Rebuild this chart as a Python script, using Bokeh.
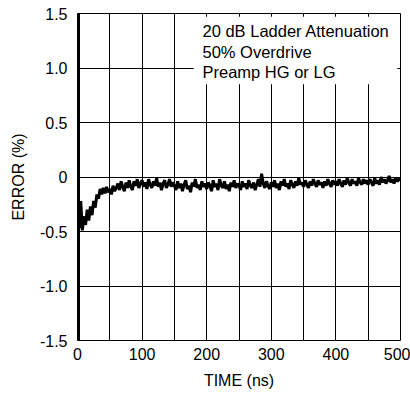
import numpy as np
from bokeh.plotting import figure
from bokeh.models import FixedTicker, Label, BoxAnnotation, Range1d
from bokeh.embed import file_html
from bokeh.resources import INLINE

# ---- data ----
sample_step_ns = 2.5
error_pct = [
    -0.30, -0.47, -0.22, -0.49, -0.36, -0.44, -0.30, -0.40, -0.27, -0.35, -0.22, -0.28, -0.16, -0.20, -0.11, -0.16, -0.10, -0.15, -0.09, -0.14,
    -0.11, -0.16, -0.08, -0.13, -0.10, -0.06, -0.12, -0.04, -0.09, -0.13, -0.05, -0.10, -0.03, -0.09, -0.12, -0.04, -0.08, -0.02, -0.10, -0.06,
    -0.03, -0.09, -0.05, -0.11, -0.02, -0.07, -0.10, -0.04, -0.08, -0.01, -0.09, -0.05, -0.12, -0.06, -0.03, -0.10, -0.07, -0.02, -0.09, -0.05,
    -0.08, -0.12, -0.04, -0.10, -0.06, -0.13, -0.07, -0.03, -0.11, -0.08, -0.14, -0.05, -0.09, -0.02, -0.10, -0.07, -0.12, -0.04, -0.09, -0.06,
    -0.11, -0.05, -0.08, -0.13, -0.03, -0.09, -0.06, -0.12, -0.02, -0.08, -0.10, -0.04, -0.11, -0.07, -0.13, -0.05, -0.09, -0.03, -0.10, -0.06,
    -0.08, -0.12, -0.04, -0.09, -0.06, -0.11, -0.03, -0.08, -0.10, -0.05, -0.12, -0.07, -0.02, -0.09, 0.03, -0.06, -0.10, -0.04, -0.08, -0.11,
    -0.05, -0.09, -0.03, -0.10, -0.06, -0.12, -0.04, -0.08, -0.02, -0.09, -0.06, -0.11, -0.03, -0.07, -0.10, -0.04, -0.08, -0.01, -0.07, -0.05,
    -0.09, -0.03, -0.07, -0.10, -0.04, -0.08, -0.02, -0.06, -0.09, -0.03, -0.07, -0.05, -0.10, -0.04, -0.08, -0.02, -0.06, -0.09, -0.03, -0.07,
    -0.04, -0.08, -0.02, -0.06, -0.09, -0.03, -0.07, -0.01, -0.05, -0.08, -0.02, -0.06, -0.04, -0.08, -0.01, -0.05, -0.07, -0.02, -0.06, -0.03,
    -0.07, -0.02, -0.05, -0.08, -0.01, -0.06, -0.03, -0.07, 0.00, -0.05, -0.02, -0.06, -0.03, 0.01, -0.05, -0.02, -0.06, -0.01, -0.04, -0.02,
    -0.03,
]
# initial overdrive spike at t = 0
spike_time_ns = [0.0, 0.0]
spike_error_pct = [1.5, -1.5]

x_ticks = [0, 100, 200, 300, 400, 500]
x_minor_ticks = [50, 150, 250, 350, 450]
x_tick_labels = ["0", "100", "200", "300", "400", "500"]
y_ticks = [-1.5, -1.0, -0.5, 0.0, 0.5, 1.0, 1.5]
y_tick_labels = ["-1.5", "-1.0", "-0.5", "0", "0.5", "1.0", "1.5"]
note_lines = ["20 dB Ladder Attenuation", "50% Overdrive", "Preamp HG or LG"]

time_ns = [i * sample_step_ns for i in range(len(error_pct))]

FONT = "Liberation Sans"
FS = "16px"

p = figure(width=410, height=394, output_backend="svg", toolbar_location=None,
           x_range=Range1d(0, 500), y_range=Range1d(-1.5, 1.5),
           min_border_left=77, min_border_right=10, min_border_top=13, min_border_bottom=54)
p.outline_line_color = "black"
p.outline_line_width = 1
p.background_fill_color = "white"
p.border_fill_color = "white"

p.xaxis.ticker = FixedTicker(ticks=x_ticks, minor_ticks=x_minor_ticks)
p.yaxis.ticker = FixedTicker(ticks=y_ticks)
p.xaxis.major_label_overrides = dict(zip(x_ticks, x_tick_labels))
p.yaxis.major_label_overrides = dict(zip(y_ticks, y_tick_labels))

for ax in (p.xaxis, p.yaxis):
    ax.axis_line_color = None
    ax.major_tick_in = 0
    ax.major_tick_out = 0
    ax.minor_tick_in = 0
    ax.minor_tick_out = 0
    ax.major_label_text_font = FONT
    ax.major_label_text_font_size = FS
    ax.major_label_text_color = "black"
    ax.axis_label_text_font = FONT
    ax.axis_label_text_font_size = FS
    ax.axis_label_text_font_style = "normal"
    ax.axis_label_text_color = "black"

p.xaxis.axis_label = "TIME (ns)"
p.yaxis.axis_label = "ERROR (%)"
p.xaxis.major_label_standoff = 7
p.yaxis.major_label_standoff = 10
p.xaxis.axis_label_standoff = 9
p.yaxis.axis_label_standoff = 10

p.xgrid.grid_line_color = "black"
p.xgrid.grid_line_alpha = 1.0
p.xgrid.minor_grid_line_color = "black"
p.ygrid.grid_line_color = "black"
p.ygrid.grid_line_alpha = 1.0

p.line(spike_time_ns, spike_error_pct, line_color="black", line_width=5)
p.line(time_ns, error_pct, line_color="black", line_width=3)

box = BoxAnnotation(left=180, right=495, bottom=0.85, top=1.47,
                    fill_color="white", fill_alpha=1.0, line_color=None)
p.add_layout(box)

note_y = [1.34, 1.146, 0.961]
for txt, yy in zip(note_lines, note_y):
    p.add_layout(Label(x=193.5, y=yy, text=txt, text_font=FONT, text_font_size="16.5px",
                       text_baseline="middle", text_align="left", text_color="black"))

open("out.html", "w").write(file_html(p, INLINE))
